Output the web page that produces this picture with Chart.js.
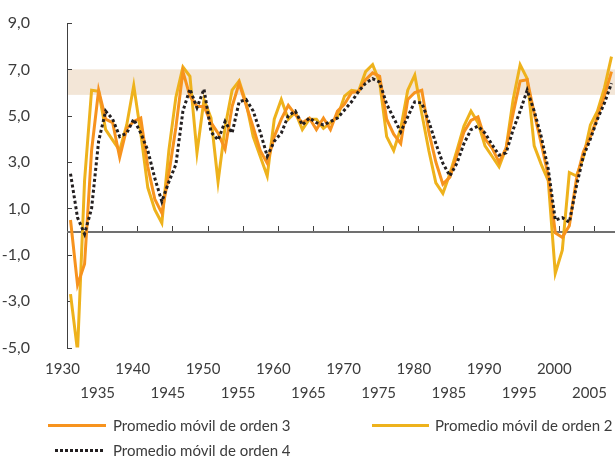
<!DOCTYPE html>
<html>
<head>
<meta charset="utf-8">
<script src="https://cdn.jsdelivr.net/npm/chart.js@4.4.0/dist/chart.umd.min.js"></script>
<style>
  html, body { margin: 0; padding: 0; background: #fff; }
  #wrap { position: relative; width: 615px; height: 456px; }
  .leg { position: absolute; font: 15px Lato, sans-serif; line-height: 18px; color: #3c3c3c; white-space: nowrap; }
  .sw { position: absolute; height: 3px; }
</style>
</head>
<body>
<div id="wrap">
  <canvas id="canvas" width="615" height="456"></canvas>
  <div class="sw" style="left:48px; top:424px; width:58px; background:#f7931e"></div>
  <div class="leg" style="left:113px; top:416px">Promedio móvil de orden 3</div>
  <div class="sw" style="left:372px; top:424px; width:57px; background:#eeb21c"></div>
  <div class="leg" style="left:435px; top:416px">Promedio móvil de orden 2</div>
  <div class="sw" style="left:55px; top:449px; width:50px; background:repeating-linear-gradient(to right, #231f20 0 3px, transparent 3px 5px)"></div>
  <div class="leg" style="left:113px; top:441px">Promedio móvil de orden 4</div>
</div>
<script>
	var years = [1930, 1931, 1932, 1933, 1934, 1935, 1936, 1937, 1938, 1939,
		1940, 1941, 1942, 1943, 1944, 1945, 1946, 1947, 1948, 1949,
		1950, 1951, 1952, 1953, 1954, 1955, 1956, 1957, 1958, 1959,
		1960, 1961, 1962, 1963, 1964, 1965, 1966, 1967, 1968, 1969,
		1970, 1971, 1972, 1973, 1974, 1975, 1976, 1977, 1978, 1979,
		1980, 1981, 1982, 1983, 1984, 1985, 1986, 1987, 1988, 1989,
		1990, 1991, 1992, 1993, 1994, 1995, 1996, 1997, 1998, 1999,
		2000, 2001, 2002, 2003, 2004, 2005, 2006, 2007];

	// promedio movil de orden 3 (naranja)
	var ordenTres = [0.5, -2.3, -1.4, 3.5, 6.1, 4.85, 4.7, 3.2, 4.45, 4.75,
		4.9, 2.8, 1.4, 0.8, 2.5, 4.5, 6.9, 5.85, 5.4, 5.4,
		4.7, 4.25, 3.55, 5.4, 6.4, 5.45, 4.5, 3.5, 2.95, 4.1,
		4.85, 5.45, 5.05, 4.7, 4.9, 4.4, 4.9, 4.4, 5.2, 5.5,
		6.0, 6.05, 6.55, 6.85, 6.7, 4.85, 4.2, 3.8, 5.7, 6.0,
		6.1, 4.3, 3.0, 2.05, 2.35, 3.3, 4.3, 4.8, 4.95, 4.0,
		3.6, 3.0, 3.6, 5.1, 6.5, 6.55, 5.1, 3.8, 2.4, -0.05,
		-0.25, 0.25, 2.25, 3.45, 4.1, 4.95, 5.85, 6.9];

	// promedio movil de orden 2 (amarillo)
	var ordenDos = [-2.7, -5.15, 2.2, 6.1, 6.05, 4.4, 3.95, 3.5, 4.6, 6.3,
		4.25, 1.9, 0.95, 0.37, 3.5, 5.8, 7.1, 6.7, 3.4, 5.7,
		4.9, 2.15, 4.5, 6.1, 6.5, 5.55, 4.1, 3.25, 2.4, 4.85,
		5.7, 4.85, 5.15, 4.4, 4.85, 4.85, 4.45, 4.7, 4.95, 5.85,
		6.1, 6.05, 6.9, 7.2, 6.45, 4.1, 3.5, 4.45, 6.1, 6.75,
		5.1, 3.5, 2.1, 1.65, 2.5, 3.5, 4.55, 5.2, 4.7, 3.7,
		3.25, 2.8, 3.6, 5.7, 7.2, 6.6, 3.7, 2.9, 2.2, -1.8,
		-0.8, 2.55, 2.4, 3.2, 4.6, 5.2, 6.2, 7.55];

	// promedio movil de orden 4 (punteado)
	var ordenCuatro = [2.5, 0.6, -0.1, 1.0, 3.9, 5.2, 4.85, 4.1, 4.25, 4.85,
		4.25, 3.5, 2.3, 1.3, 2.15, 2.9, 5.2, 6.15, 5.35, 6.15,
		4.3, 3.95, 4.75, 4.25, 5.6, 5.7, 5.2, 4.3, 3.25, 3.9,
		4.25, 5.0, 5.2, 4.6, 4.9, 4.7, 4.6, 4.75, 4.9, 5.25,
		5.6, 6.05, 6.4, 6.6, 6.45, 5.5, 4.9, 4.3, 4.95, 5.6,
		5.55, 4.75, 3.8, 2.95, 2.4, 2.95, 3.8, 4.4, 4.55, 4.25,
		3.75, 3.3, 3.4, 4.4, 5.2, 6.1, 5.2, 4.1, 2.7, 0.5,
		0.6, 0.4, 1.95, 3.25, 4.0, 4.85, 5.55, 6.4];

	var labelYears = [1930, 1935, 1940, 1945, 1950, 1955, 1960, 1965,
		1970, 1975, 1980, 1985, 1990, 1995, 2000, 2005];
	var tickMarks = [1934.5, 1939.5, 1944.5, 1949.5, 1954.5, 1959.5, 1964.5, 1969.5,
		1974.5, 1979.5, 1984.5, 1989.5, 1994.5, 1999.5, 2004.5];
	var bandLow = 5.9;
	var bandHigh = 7.0;

	function points(vals) {
		return years.map(function (y, i) { return { x: y, y: vals[i] }; });
	}

	// franja, eje cero y marcas hacia adentro
	var decor = {
		id: 'decor',
		beforeDatasetsDraw: function (chart) {
			var ctx = chart.ctx, a = chart.chartArea;
			var xs = chart.scales.x, ys = chart.scales.y;
			ctx.save();
			var t = ys.getPixelForValue(bandHigh), b = ys.getPixelForValue(bandLow);
			ctx.fillStyle = '#f3e6d7';
			ctx.fillRect(a.left + 1, t, a.right - a.left, b - t);
			var z = Math.round(ys.getPixelForValue(0));
			ctx.strokeStyle = '#707070';
			ctx.lineWidth = 2;
			ctx.beginPath();
			ctx.moveTo(a.left, z);
			ctx.lineTo(a.right, z);
			ctx.stroke();
			ctx.lineWidth = 1;
			ctx.strokeStyle = '#404040';
			ctx.beginPath();
			tickMarks.forEach(function (v) {
				var px = Math.round(xs.getPixelForValue(v)) + 0.5;
				ctx.moveTo(px, z - 1);
				ctx.lineTo(px, z - 6);
			});
			ys.ticks.forEach(function (tk) {
				var py = Math.round(ys.getPixelForValue(tk.value)) + 0.5;
				ctx.moveTo(a.left, py);
				ctx.lineTo(a.left + 5, py);
			});
			ctx.stroke();
			ctx.restore();
		}
	};

	window.onload = function () {
		var ctx = document.getElementById('canvas').getContext('2d');
		window.myChart = new Chart(ctx, {
			type: 'line',
			data: {
				datasets: [{
					label: 'Promedio móvil de orden 4',
					data: points(ordenCuatro),
					borderColor: '#231f20',
					borderWidth: 3,
					borderDash: [3, 2.5],
					pointRadius: 0,
					order: 1
				}, {
					label: 'Promedio móvil de orden 3',
					data: points(ordenTres),
					borderColor: '#f7931e',
					borderWidth: 3,
					pointRadius: 0,
					order: 2
				}, {
					label: 'Promedio móvil de orden 2',
					data: points(ordenDos),
					borderColor: '#eeb21c',
					borderWidth: 3,
					pointRadius: 0,
					order: 3
				}]
			},
			options: {
				responsive: false,
				animation: false,
				layout: { padding: { top: 23, left: 0, right: 0, bottom: 48.5 } },
				plugins: { legend: { display: false }, tooltip: { enabled: false } },
				scales: {
					x: {
						type: 'linear',
						min: 1929.5,
						max: 2007.5,
						grid: { display: false },
						border: { display: false },
						afterBuildTicks: function (scale) {
							scale.ticks = labelYears.map(function (v) { return { value: v }; });
						},
						afterFit: function (scale) {
							scale.height = 60;
							scale.paddingLeft = 0;
							scale.paddingRight = 0;
						},
						ticks: {
							autoSkip: false,
							maxRotation: 0,
							minRotation: 0,
							labelOffset: -8,
							padding: 2,
							color: '#3c3c3c',
							font: { family: 'Lato', size: 15, lineHeight: 1.6 },
							callback: function (v) {
								return v % 10 === 0 ? [String(v)] : ['', String(v)];
							}
						}
					},
					y: {
						min: -5,
						max: 9,
						grid: { display: false },
						border: { display: true, color: '#404040', width: 1 },
						afterFit: function (scale) {
							scale.width = 67;
							scale.paddingTop = 0;
							scale.paddingBottom = 0;
						},
						ticks: {
							stepSize: 2,
							padding: 29,
							color: '#3c3c3c',
							font: { family: 'Lato', size: 16 },
							callback: function (v) { return v.toFixed(1).replace('.', ','); }
						}
					}
				}
			},
			plugins: [decor]
		});
	};
</script>
</body>
</html>
